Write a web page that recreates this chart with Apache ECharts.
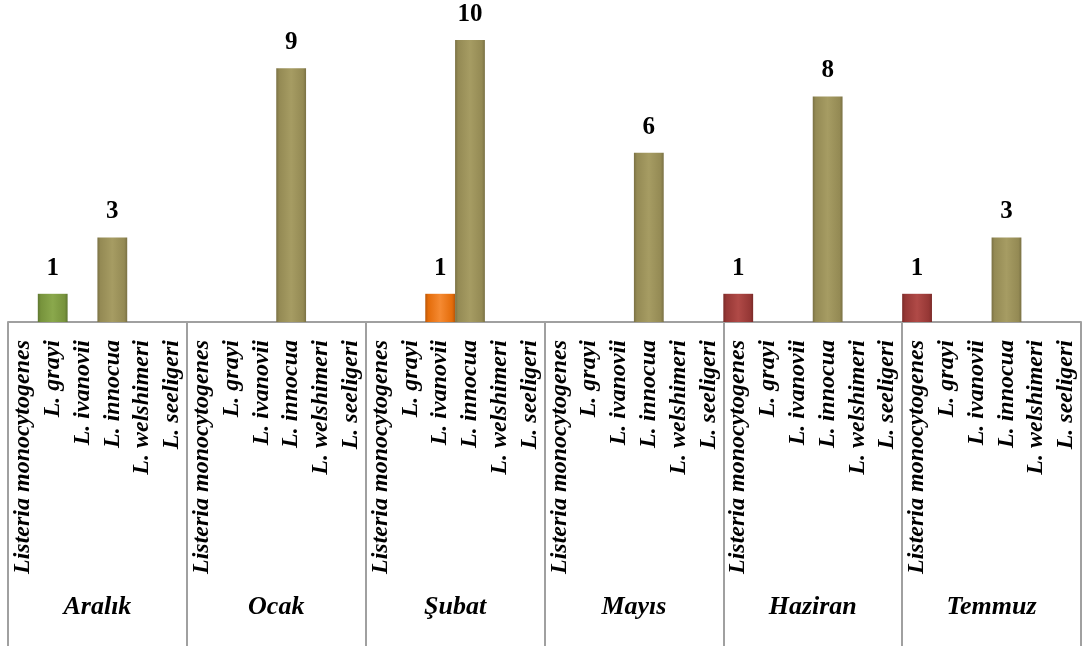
<!DOCTYPE html>
<html>
<head>
<meta charset="utf-8">
<script src="https://cdn.jsdelivr.net/npm/echarts@6/dist/echarts.min.js"></script>
<style>
  html, body { margin: 0; padding: 0; background: #fff; }
  #chart { width: 1083px; height: 652px; }
</style>
</head>
<body>
<div id="chart"></div>
<script>
// Sampling months and the Listeria species isolated in each
const months = ['Aralık', 'Ocak', 'Şubat', 'Mayıs', 'Haziran', 'Temmuz'];
const species = ['Listeria monocytogenes', 'L. grayi', 'L. ivanovii', 'L. innocua', 'L. welshimeri', 'L. seeligeri'];

// Isolate counts per species, one array per month (0 = none isolated)
const aralik  = [0, 1, 0, 3, 0, 0];
const ocak    = [0, 0, 0, 9, 0, 0];
const subat   = [0, 0, 1, 10, 0, 0];
const mayis   = [0, 0, 0, 6, 0, 0];
const haziran = [1, 0, 0, 8, 0, 0];
const temmuz  = [1, 0, 0, 3, 0, 0];
const counts = [aralik, ocak, subat, mayis, haziran, temmuz];

// Fill colour per species: [highlight, base, shade]
const speciesColor = {
  'Listeria monocytogenes': ['#b04a47', '#953735', '#7a2a28'],
  'L. grayi':               ['#8aa84c', '#77933c', '#5e7630'],
  'L. ivanovii':            ['#f58a32', '#e46c0a', '#b95607'],
  'L. innocua':             ['#a69c63', '#948a54', '#7a7144'],
  'L. welshimeri':          ['#a69c63', '#948a54', '#7a7144'],
  'L. seeligeri':           ['#a69c63', '#948a54', '#7a7144']
};

function bevel(c) {
  return {
    type: 'linear', x: 0, y: 0, x2: 1, y2: 0,
    colorStops: [
      { offset: 0, color: c[2] },
      { offset: 0.1, color: c[1] },
      { offset: 0.5, color: c[0] },
      { offset: 0.9, color: c[1] },
      { offset: 1, color: c[2] }
    ]
  };
}

const axisCats = [];
const barData = [];
months.forEach((m, gi) => {
  species.forEach((s, si) => {
    axisCats.push(s);
    barData.push({
      value: counts[gi][si],
      itemStyle: { color: bevel(speciesColor[s]) }
    });
  });
});

const serif = '"Liberation Serif", "Times New Roman", serif';
const lineColor = '#a0a0a0';

const chart = echarts.init(document.getElementById('chart'));
chart.setOption({
  animation: false,
  grid: { left: 8, right: 2, top: 40, bottom: 330 },
  xAxis: [
    {
      type: 'category',
      data: axisCats,
      axisLine: { lineStyle: { color: lineColor, width: 2 } },
      axisTick: {
        show: true,
        interval: (i) => i % 6 === 0,
        length: 324,
        lineStyle: { color: lineColor, width: 2 }
      },
      axisLabel: {
        interval: 0,
        rotate: 90,
        margin: 18,
        color: '#000',
        fontFamily: serif,
        fontWeight: 'bold',
        fontStyle: 'italic',
        fontSize: 24
      }
    },
    {
      type: 'category',
      data: months,
      position: 'bottom',
      offset: 0,
      axisLine: { show: false },
      axisTick: { show: false },
      axisLabel: {
        interval: 0,
        margin: 272,
        color: '#000',
        fontFamily: serif,
        fontWeight: 'bold',
        fontStyle: 'italic',
        fontSize: 26
      }
    }
  ],
  yAxis: {
    type: 'value',
    min: 0,
    max: 10,
    show: false,
    splitLine: { show: false }
  },
  series: [{
    type: 'bar',
    data: barData,
    barCategoryGap: '0%',
    label: {
      show: true,
      position: 'top',
      distance: 13,
      color: '#000',
      fontFamily: serif,
      fontWeight: 'bold',
      fontSize: 25,
      formatter: (p) => (p.value ? String(p.value) : '')
    }
  }]
});
</script>
</body>
</html>
